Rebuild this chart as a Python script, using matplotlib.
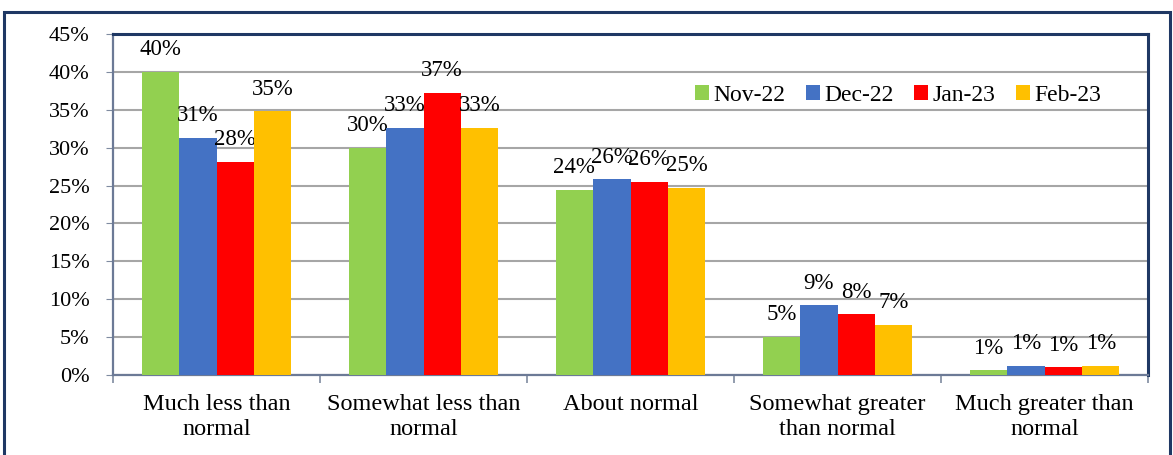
import numpy as np
import matplotlib.pyplot as plt
from matplotlib.patches import Rectangle
from matplotlib.ticker import FixedLocator, PercentFormatter

categories = ["Much less than\nnormal", "Somewhat less than\nnormal", "About normal",
              "Somewhat greater\nthan normal", "Much greater than\nnormal"]
series = ["Nov-22", "Dec-22", "Jan-23", "Feb-23"]
nov22 = [40.0, 30.0, 24.4, 5.0, 0.6]
dec22 = [31.3, 32.6, 25.8, 9.2, 1.2]
jan23 = [28.1, 37.2, 25.5, 8.0, 1.0]
feb23 = [34.8, 32.6, 24.7, 6.6, 1.2]
colors = ["#92D050", "#4472C4", "#FF0000", "#FFC000"]

plt.rcParams['font.family'] = ['Liberation Serif', 'DejaVu Serif']

fig = plt.figure(figsize=(11.73, 4.55), dpi=100)
ax = fig.add_axes([113 / 1173, 1 - 375 / 455, 1035 / 1173, 341 / 455])

# outer frame of the chart
fig.patches.append(Rectangle((4 / 1173, -0.02), 1166 / 1173, 0.02 + 1 - 12 / 455,
                             transform=fig.transFigure, fill=False,
                             edgecolor="#1F3864", lw=2.2))

x = np.arange(len(categories))
w = 0.181
data = [nov22, dec22, jan23, feb23]
for i, (name, vals) in enumerate(zip(series, data)):
    pos = x + (i - 1.5) * w
    ax.bar(pos, vals, width=w, color=colors[i], label=name, zorder=3)
    for px, v in zip(pos, vals):
        ax.annotate(f"{v:.0f}%", (px, v), xytext=(0, 12), textcoords="offset points",
                    ha="center", va="baseline", fontsize=16.5)

ax.set_xlim(-0.5, len(categories) - 0.5)
ax.set_ylim(0, 45)
ax.set_yticks(np.arange(0, 46, 5))
ax.yaxis.set_major_formatter(PercentFormatter(decimals=0))
ax.grid(axis="y", color="#A6A6A6", lw=1.5, zorder=0)
ax.tick_params(axis="y", labelsize=16, length=5, color="#7F8BA0", pad=12)

ax.set_xticks(x)
ax.set_xticklabels(categories, fontsize=17.5, linespacing=1.25)
ax.tick_params(axis="x", which="major", length=0, pad=14)
ax.xaxis.set_minor_locator(FixedLocator(np.arange(-0.5, len(categories), 1)))
ax.tick_params(axis="x", which="minor", length=6, color="#7F8BA0", width=1.2)

for s in ["top", "right"]:
    ax.spines[s].set_color("#1F3864")
    ax.spines[s].set_linewidth(2.2)
for s in ["left", "bottom"]:
    ax.spines[s].set_color("#6C7A96")
    ax.spines[s].set_linewidth(1.6)

ax.legend(loc="center left", bbox_to_anchor=(0.553, 0.82), ncol=4, frameon=False,
          fontsize=17, handlelength=0.6, handleheight=0.6, handletextpad=0.2,
          columnspacing=0.85, borderaxespad=0)

fig.savefig("out.png", dpi=100)
